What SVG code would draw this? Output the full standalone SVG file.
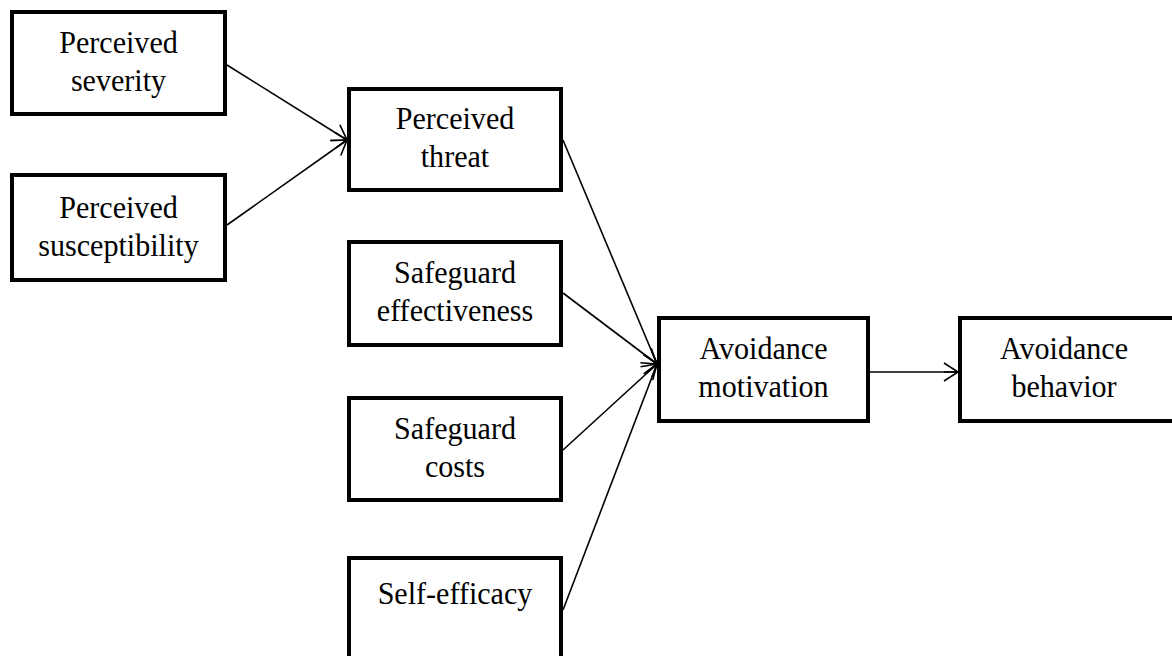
<svg xmlns="http://www.w3.org/2000/svg" width="1172" height="656" viewBox="0 0 1172 656">
<style>
.box{fill:#fff;stroke:#000;stroke-width:4}
.t{font-family:"Liberation Serif","Times New Roman",serif;font-size:32px;fill:#000;text-anchor:middle}
.c{stroke:#000;stroke-width:1.6;fill:none}
</style>
<defs>
<marker id="arr" viewBox="-1 -11 17 22" markerWidth="17" markerHeight="22" refX="14" refY="0" orient="auto" markerUnits="userSpaceOnUse">
<path d="M0,-9 L14,0 L0,9 M0,0 L14,0" fill="none" stroke="#000" stroke-width="1.6"/>
</marker>
</defs>
<rect width="1172" height="656" fill="#fff"/>
<g id="connectors">
<line class="c" x1="227" y1="65" x2="347" y2="140" marker-end="url(#arr)"/>
<line class="c" x1="227" y1="225" x2="347" y2="140" marker-end="url(#arr)"/>
<line class="c" x1="563" y1="140" x2="657" y2="364" marker-end="url(#arr)"/>
<line class="c" x1="563" y1="293" x2="657" y2="364" marker-end="url(#arr)"/>
<line class="c" x1="563" y1="450" x2="657" y2="364" marker-end="url(#arr)"/>
<line class="c" x1="563" y1="610" x2="657" y2="364" marker-end="url(#arr)"/>
<line class="c" x1="870" y1="372" x2="958" y2="372" marker-end="url(#arr)"/>
</g>
<g id="severity">
<rect class="box" x="12" y="12" width="213" height="102"/>
<text class="t" transform="translate(118.5,53) scale(0.94,1)">Perceived</text>
<text class="t" transform="translate(118.5,91) scale(0.94,1)">severity</text>
</g>
<g id="susceptibility">
<rect class="box" x="12" y="175" width="213" height="105"/>
<text class="t" transform="translate(118.5,218) scale(0.94,1)">Perceived</text>
<text class="t" transform="translate(118.5,256) scale(0.94,1)">susceptibility</text>
</g>
<g id="threat">
<rect class="box" x="349" y="89" width="212" height="101"/>
<text class="t" transform="translate(455,129) scale(0.94,1)">Perceived</text>
<text class="t" transform="translate(455,167) scale(0.94,1)">threat</text>
</g>
<g id="effectiveness">
<rect class="box" x="349" y="242" width="212" height="103"/>
<text class="t" transform="translate(455,283) scale(0.94,1)">Safeguard</text>
<text class="t" transform="translate(455,321) scale(0.94,1)">effectiveness</text>
</g>
<g id="costs">
<rect class="box" x="349" y="398" width="212" height="102"/>
<text class="t" transform="translate(455,439) scale(0.94,1)">Safeguard</text>
<text class="t" transform="translate(455,477) scale(0.94,1)">costs</text>
</g>
<g id="selfefficacy">
<rect class="box" x="349" y="558" width="212" height="140"/>
<text class="t" transform="translate(455,604) scale(0.94,1)">Self-efficacy</text>
</g>
<g id="motivation">
<rect class="box" x="659" y="318" width="209" height="103"/>
<text class="t" transform="translate(763.5,359) scale(0.94,1)">Avoidance</text>
<text class="t" transform="translate(763.5,397) scale(0.94,1)">motivation</text>
</g>
<g id="behavior">
<rect class="box" x="960" y="318" width="218" height="103"/>
<text class="t" transform="translate(1064,359) scale(0.94,1)">Avoidance</text>
<text class="t" transform="translate(1064,397) scale(0.94,1)">behavior</text>
</g>
</svg>
